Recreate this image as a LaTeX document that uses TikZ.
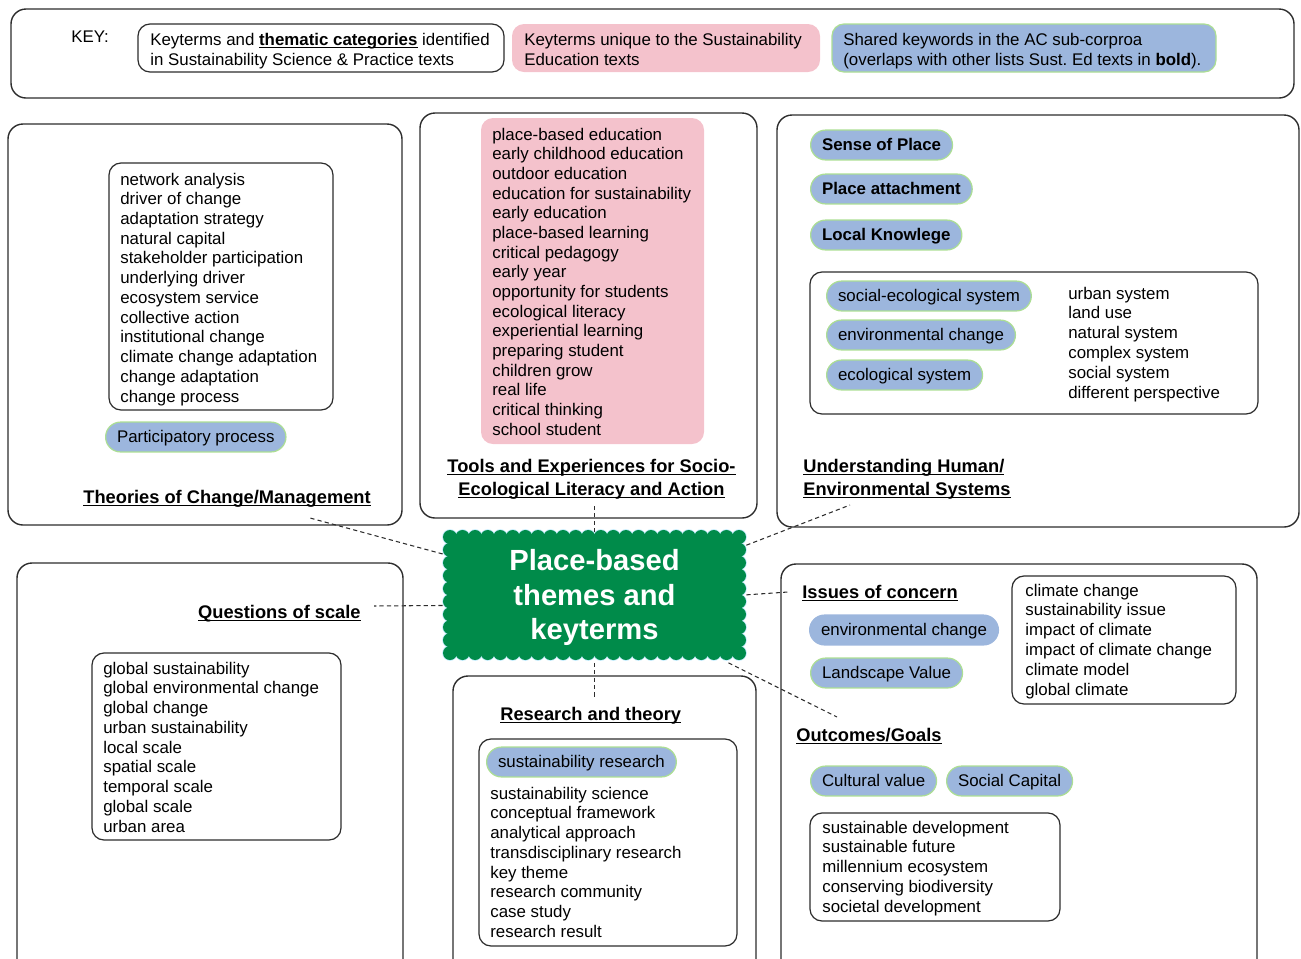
\documentclass[tikz,border=0pt]{standalone}
\usepackage{fontspec}
\setmainfont{Liberation Sans}

\definecolor{pillblue}{RGB}{156,182,221}
\definecolor{pillrim}{RGB}{172,222,148}
\definecolor{edupink}{RGB}{244,194,204}
\definecolor{coregreen}{RGB}{0,139,74}
\definecolor{rimline}{RGB}{45,45,45}

\newlength\ulw
\newcommand\ultitle[1]{\settowidth\ulw{#1}\rlap{\rule[-1.7pt]{\ulw}{0.75pt}}#1}

\tikzset{
  panel/.style={draw=rimline, line width=0.8pt, rounded corners=0.3cm},
  listbox/.style={draw=rimline, line width=0.7pt, rounded corners=0.24cm},
  term/.style={inner sep=0pt, anchor=base west, font=\fontsize{9.6}{11.2}\selectfont},
  ttl/.style={inner sep=0pt, anchor=base west, font=\fontsize{10.4}{13}\selectfont\bfseries},
  pill/.style={anchor=west, fill=pillblue, draw=pillrim, line width=0.7pt, rounded corners=8.5pt,
    minimum height=17pt, inner xsep=6.5pt, inner ysep=0pt, text height=7.6pt, text depth=1.6pt,
    font=\fontsize{9.6}{11.2}\selectfont},
  boldpill/.style={pill, font=\fontsize{9.6}{11.2}\selectfont\bfseries},
  link/.style={draw=rimline, dash pattern=on 2.4pt off 1.8pt, line width=0.6pt, line cap=butt},
  scalrim/.style={fill=coregreen, draw=cyan!25, line width=0.9pt},
  scalfill/.style={fill=coregreen},
}

\begin{document}
\begin{tikzpicture}[x=0.02cm,y=-0.02cm,line cap=round,line join=round]
\useasboundingbox (0,0) rectangle (1301,958);

% key
\draw[panel] (11,9) rectangle (1294,98);
\node[term] (keylbl) at (71,42) {KEY:};
\draw[listbox] (138,24) rectangle (504,72);
\fill[edupink,rounded corners=0.24cm] (512,24) rectangle (820,72);
\draw[fill=pillblue,draw=pillrim,line width=0.7pt,rounded corners=0.24cm] (832,24) rectangle (1216,72);
\node[term] (key1a) at (150,45) {Keyterms and \textbf{\ultitle{thematic categories}} identified};
\node[term] (key1b) at (150,65) {in Sustainability Science \& Practice texts};
\node[term] (key2a) at (524,45) {Keyterms unique to the Sustainability};
\node[term] (key2b) at (524,65) {Education texts};
\node[term] (key3a) at (843,45) {Shared keywords in the AC sub-corproa};
\node[term] (key3b) at (843,65) {(overlaps with other lists Sust.\ Ed texts in \textbf{bold}).};

% theories of change
\draw[panel] (8,124) rectangle (402,525);
\draw[listbox] (109,163) rectangle (333,410);
\foreach \t [count=\i from 0] in {network analysis,driver of change,adaptation strategy,natural capital,
  stakeholder participation,underlying driver,ecosystem service,collective action,institutional change,
  climate change adaptation,change adaptation,change process}
  \node[term] (theo-\i) at (120,185+\i*19.73) {\t};
\node[pill] (theo-pill) at (105,437) {Participatory process};
\node[ttl] (theo-ttl) at (83,503) {\ultitle{Theories of Change/Management}};
\coordinate (theo-end) at (310,518);

% tools and experiences
\draw[panel] (420,113) rectangle (757,518);
\fill[edupink,rounded corners=0.24cm] (481,118) rectangle (704,444);
\foreach \t [count=\i from 0] in {place-based education,early childhood education,outdoor education,
  education for sustainability,early education,place-based learning,critical pedagogy,early year,
  opportunity for students,ecological literacy,experiential learning,preparing student,children grow,
  real life,critical thinking,school student}
  \node[term] (tool-\i) at (492,140+\i*19.67) {\t};
\node[ttl,anchor=base] (tool-ttl) at (591.5,472) {\ultitle{Tools and Experiences for Socio-}};
\node[ttl,anchor=base] (tool-ttl2) at (591.5,495) {\ultitle{Ecological Literacy and Action}};
\coordinate (tool-end) at (594,505);

% human/environmental systems
\draw[panel] (777,115) rectangle (1299,527);
\node[boldpill] (und-p1) at (810,145) {Sense of Place};
\node[boldpill] (und-p2) at (810,189) {Place attachment};
\node[boldpill] (und-p3) at (810,235) {Local Knowlege};
\draw[listbox] (810,272) rectangle (1258,414);
\node[pill] (und-p4) at (826,296) {social-ecological system};
\node[pill] (und-p5) at (826,335) {environmental change};
\node[pill] (und-p6) at (826,375) {ecological system};
\foreach \t [count=\i from 0] in {urban system,land use,natural system,complex system,social system,
  different perspective}
  \node[term] (und-\i) at (1068,299+\i*19.8) {\t};
\node[ttl] (und-ttl) at (803,472) {\ultitle{Understanding Human/}};
\node[ttl] (und-ttl2) at (803,495) {\ultitle{Environmental Systems}};
\coordinate (und-end) at (850,505);

% questions of scale
\draw[panel] (17,563) rectangle (403,990);
\node[ttl,anchor=base east] (scale-ttl) at (361,618) {\ultitle{Questions of scale}};
\coordinate (scale-end) at (374,606);
\draw[listbox] (92,653) rectangle (341,840);
\foreach \t [count=\i from 0] in {global sustainability,global environmental change,global change,
  urban sustainability,local scale,spatial scale,temporal scale,global scale,urban area}
  \node[term] (scale-\i) at (103,674+\i*19.75) {\t};

% research and theory
\draw[panel] (453,676) rectangle (756,990);
\node[ttl] (res-ttl) at (500,720) {\ultitle{Research and theory}};
\coordinate (res-end) at (594,697);
\draw[listbox] (479,739) rectangle (737,946);
\node[pill] (res-pill) at (486,762) {sustainability research};
\foreach \t [count=\i from 0] in {sustainability science,conceptual framework,analytical approach,
  transdisciplinary research,key theme,research community,case study,research result}
  \node[term] (res-\i) at (490,799+\i*19.75) {\t};

% issues and outcomes
\draw[panel] (781,564) rectangle (1257,990);
\node[ttl] (iss-ttl) at (802,598) {\ultitle{Issues of concern}};
\coordinate (iss-end) at (788,592);
\node[pill,draw=pillblue] (iss-p1) at (809,630) {environmental change};
\node[pill] (iss-p2) at (810,673) {Landscape Value};
\draw[listbox] (1012,576) rectangle (1236,704);
\foreach \t [count=\i from 0] in {climate change,sustainability issue,impact of climate,
  impact of climate change,climate model,global climate}
  \node[term] (iss-\i) at (1025,596+\i*19.8) {\t};
\node[ttl] (out-ttl) at (796,741) {\ultitle{Outcomes/Goals}};
\coordinate (out-end) at (837,717);
\node[pill] (out-p1) at (810,781) {Cultural value};
\node[pill] (out-p2) at (946,781) {Social Capital};
\draw[listbox] (810,813) rectangle (1060,921);
\foreach \t [count=\i from 0] in {sustainable development,sustainable future,millennium ecosystem,
  conserving biodiversity,societal development}
  \node[term] (out-\i) at (822,833+\i*19.75) {\t};

% central cloud
\foreach \pass in {scalrim,scalfill}{
  \foreach \i in {0,...,23}{
    \path[\pass] (450+\i*12.565,537) circle[radius=0.14cm];
    \path[\pass] (450+\i*12.565,653) circle[radius=0.14cm];
  }
  \foreach \j in {1,...,8}{
    \path[\pass] (450,537+\j*12.89) circle[radius=0.14cm];
    \path[\pass] (739,537+\j*12.89) circle[radius=0.14cm];
  }
}
\fill[coregreen] (450,537) rectangle (739,653);
\node[minimum width=6.06cm,minimum height=2.6cm,inner sep=0pt,text=white,align=center,
  font=\fontsize{16.6}{19.85}\selectfont\bfseries] (core) at (594.5,597.5) {Place-based\\themes and\\keyterms};

\draw[link] (core.164) -- (theo-end);
\draw[link] (core.183) -- (scale-end);
\draw[link] (core.north) -- (core.north |- tool-end);
\draw[link] (core.19) -- (und-end);
\draw[link] (core.1) -- (iss-end);
\draw[link] (core.334) -- (out-end);
\draw[link] (core.south) -- (core.south |- res-end);
\end{tikzpicture}
\end{document}
